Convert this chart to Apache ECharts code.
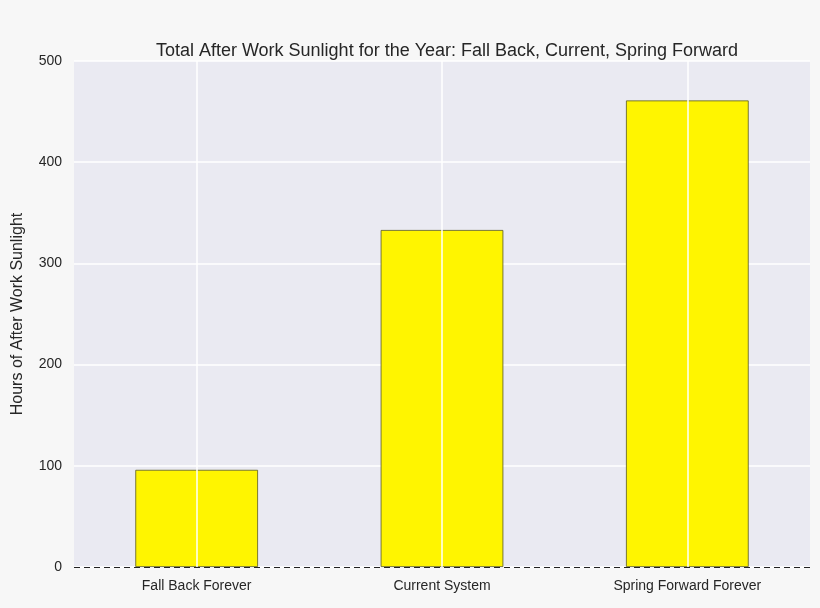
<!DOCTYPE html>
<html><head><meta charset="utf-8">
<script src="https://cdn.jsdelivr.net/npm/echarts@6/dist/echarts.min.js"></script>
<style>html,body{margin:0;background:#f7f7f7}#c{width:820px;height:608px}</style>
</head><body><div id="c"></div>
<script>
const categories = ['Fall Back Forever','Current System','Spring Forward Forever'];
const values = [96, 333, 461];
const chart = echarts.init(document.getElementById('c'));
chart.setOption({
  backgroundColor:'#f7f7f7',
  animation:false,
  title:{text:'Total After Work Sunlight for the Year: Fall Back, Current, Spring Forward',left:442,top:37,textAlign:'center',
    textStyle:{fontFamily:'Liberation Sans',fontSize:18,fontWeight:'normal',color:'#262626'}},
  grid:{left:74,right:10,top:61,bottom:41,backgroundColor:'#eaeaf2',show:true,borderWidth:0},
  xAxis:{type:'category',data:categories,axisLine:{show:false},axisTick:{show:false},splitLine:{show:false},
    axisLabel:{fontFamily:'Liberation Sans',fontSize:14,color:'#262626',margin:12}},
  yAxis:{type:'value',min:0,max:500,interval:100,name:'Hours of After Work Sunlight',nameLocation:'middle',nameGap:48,
    nameTextStyle:{fontFamily:'Liberation Sans',fontSize:16,color:'#262626'},
    axisLine:{show:false},axisTick:{show:false},
    axisLabel:{fontFamily:'Liberation Sans',fontSize:14,color:'#262626',margin:12},
    splitLine:{lineStyle:{color:'#ffffff',width:1.5}}},
  series:[
    {type:'line',data:[],z:1,markLine:{silent:true,symbol:'none',label:{show:false},
      lineStyle:{color:'#ffffff',type:'solid',width:1.5},
      data:categories.map(c=>({xAxis:c}))}},
    {type:'bar',data:values,barWidth:'50%',z:3,
      itemStyle:{color:'#fff500',borderColor:'#5a5a20',borderWidth:0.8},
      markLine:{silent:true,symbol:'none',label:{show:false},
        lineStyle:{color:'#222',type:[6,4],width:1.2},data:[{yAxis:0}]}}
  ]
});
</script></body></html>
